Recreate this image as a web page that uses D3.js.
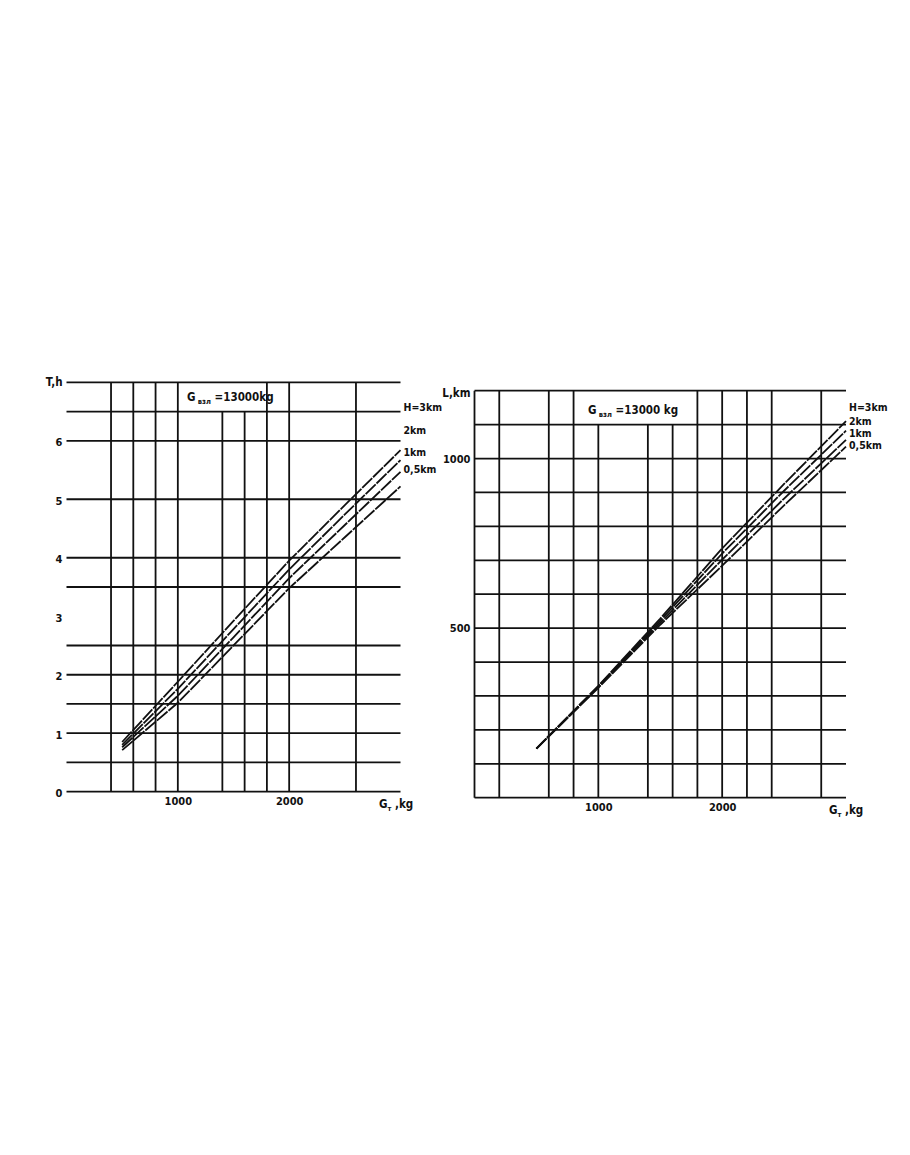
<!doctype html>
<html>
<head>
<title>Flight time and range vs fuel</title>
<script src="https://d3js.org/d3.v7.min.js"></script>
<style>
body { margin: 0; background: #fff; }
svg { display: block; }
text {
  font-family: "Liberation Sans Narrow", "Arial Narrow", "DejaVu Sans Condensed", "Liberation Sans", sans-serif;
  font-weight: bold;
  fill: #111;
}
.grid line { stroke: #111; stroke-width: 1.8; }
.curve { fill: none; stroke: #111; stroke-width: 1.8; stroke-dasharray: 14 1.2; }
.tick text { font-size: 11px; }
</style>
</head>
<body>
<script>

// fuel mass on the x axis, kg
var fuelKg = [500, 1000, 1500, 2000, 2500, 3000];
var curveNames = ["H=3km", "2km", "1km", "0,5km"];

// flight time T, h (left chart)
var time3km  = [0.85, 1.88, 2.92, 3.95, 4.90, 5.84];
var time2km  = [0.80, 1.76, 2.78, 3.80, 4.74, 5.67];
var time1km  = [0.76, 1.64, 2.64, 3.65, 4.56, 5.47];
var time05km = [0.71, 1.52, 2.50, 3.48, 4.35, 5.22];

// range L, km (right chart)
var range3km  = [145, 330, 528, 735, 925, 1110];
var range2km  = [145, 328, 522, 720, 905, 1082];
var range1km  = [145, 326, 516, 702, 882, 1055];
var range05km = [145, 324, 510, 684, 862, 1035];

// grid and tick values
var leftGridX = [400, 600, 800, 1000, 1400, 1600, 1800, 2000, 2600];
var leftShortX = [1400, 1600];
var leftGridY = [0, 0.5, 1, 1.5, 2, 2.5, 3.5, 4, 5, 6, 6.5, 7];
var leftTicksY = [0, 1, 2, 3, 4, 5, 6];
var leftTicksX = [1000, 2000];

var rightGridX = [0, 200, 600, 800, 1000, 1400, 1600, 1800, 2000, 2200, 2400, 2800];
var rightShortX = [1000, 1400, 1600];
var rightGridY = [0, 100, 200, 300, 400, 500, 600, 700, 800, 900, 1000, 1100, 1200];
var rightTicksY = [500, 1000];
var rightTicksX = [1000, 2000];

var svg = d3.select("body").append("svg").attr("width", 910).attr("height", 1155);

function drawChart(c) {
  var x = d3.scaleLinear().domain([0, 3000]).range(c.xr);
  var y = d3.scaleLinear().domain(c.yd).range(c.yr);
  var g = svg.append("g");

  var grid = g.append("g").attr("class", "grid");
  grid.selectAll(".h").data(c.gridY).enter().append("line")
    .attr("x1", c.xr[0]).attr("x2", c.xr[1])
    .attr("y1", function(d){ return y(d); }).attr("y2", function(d){ return y(d); });
  grid.selectAll(".v").data(c.gridX).enter().append("line")
    .attr("x1", function(d){ return x(d); }).attr("x2", function(d){ return x(d); })
    .attr("y1", function(d){ return c.shortX.indexOf(d) >= 0 ? y(c.shortFrom) : y(c.yd[1]); })
    .attr("y2", y(0));

  // tick labels through d3 axes, no domain/ticks drawn
  var ya = g.append("g").attr("transform", "translate(" + (c.xr[0] - 4) + ",0)")
    .call(d3.axisLeft(y).tickValues(c.ticksY).tickFormat(d3.format("d")).tickSize(0).tickPadding(0));
  ya.select(".domain").remove();
  ya.selectAll("text").attr("font-family", null).attr("dy", c.tickDy);

  var xa = g.append("g").attr("transform", "translate(0," + (y(0) + 5) + ")")
    .call(d3.axisBottom(x).tickValues(c.ticksX).tickFormat(d3.format("d")).tickSize(0).tickPadding(0));
  xa.select(".domain").remove();
  xa.selectAll("text").attr("font-family", null);

  var line = d3.line()
    .x(function(d){ return x(d[0]); })
    .y(function(d){ return y(d[1]); });

  c.series.forEach(function(s, i) {
    g.append("path").attr("class", "curve")
      .attr("d", line(fuelKg.map(function(f, j){ return [f, s[j]]; })));
    g.append("text")
      .attr("x", c.xr[1] + c.labelDx)
      .attr("y", c.labelY[i])
      .attr("dy", "0.35em")
      .style("font-size", "10.5px")
      .text(curveNames[i]);
  });

  // axis names
  g.append("text").attr("x", c.xr[0] - 4).attr("y", c.yr[1] + c.nameDy).attr("dy", "0.35em")
    .attr("text-anchor", "end").style("font-size", "11.5px").text(c.yName);

  var xn = g.append("text").attr("x", c.xNameX).attr("y", y(0) + c.xNameDy)
    .style("font-size", "11.5px");
  xn.append("tspan").text("G");
  xn.append("tspan").attr("dy", 3).style("font-size", "7.5px").text("т");
  xn.append("tspan").attr("dy", -3).text(" ,kg");

  var t = g.append("text").attr("x", c.titleX).attr("y", c.titleY).attr("dy", "0.35em")
    .style("font-size", "11.5px");
  t.append("tspan").text("G");
  t.append("tspan").attr("dy", 3).style("font-size", "7.5px").text(" взл");
  t.append("tspan").attr("dy", -3).text(c.titleTail);
}

drawChart({
  xr: [66.5, 400.5], yd: [0, 7], yr: [791.7, 382.3],
  gridX: leftGridX, shortX: leftShortX, shortFrom: 6.5, gridY: leftGridY,
  ticksY: leftTicksY, ticksX: leftTicksX, tickDy: "0.45em",
  series: [time3km, time2km, time1km, time05km],
  labelY: [407, 430, 452, 469], labelDx: 3,
  yName: "T,h", nameDy: 0, xNameX: 379, xNameDy: 16,
  titleX: 187, titleY: 397, titleTail: " =13000kg"
});

drawChart({
  xr: [474.5, 846], yd: [0, 1200], yr: [797.7, 390.7],
  gridX: rightGridX, shortX: rightShortX, shortFrom: 1100, gridY: rightGridY,
  ticksY: rightTicksY, ticksX: rightTicksX, tickDy: "0.32em",
  series: [range3km, range2km, range1km, range05km],
  labelY: [407, 421, 433, 445], labelDx: 3,
  yName: "L,km", nameDy: 2, xNameX: 829, xNameDy: 16,
  titleX: 588, titleY: 410, titleTail: " =13000 kg"
});

</script>
</body>
</html>
